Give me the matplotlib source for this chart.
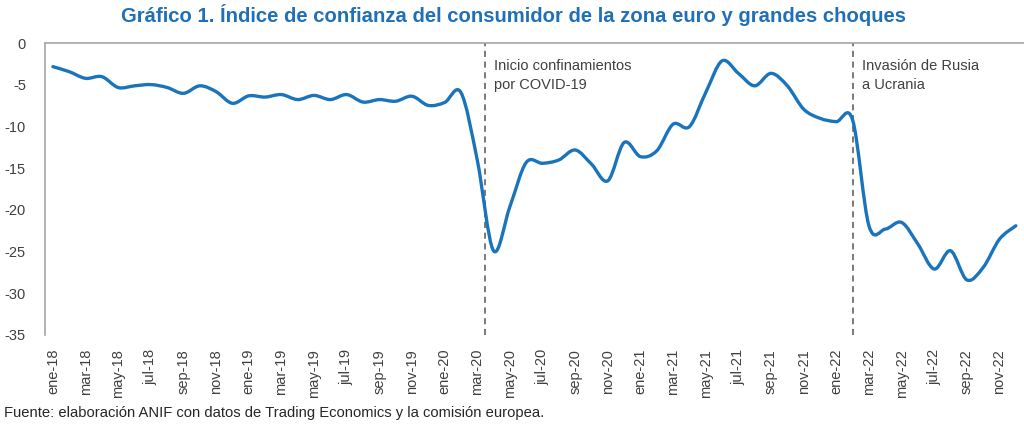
import matplotlib
matplotlib.use("Agg")
import matplotlib.pyplot as plt
from matplotlib.path import Path
from matplotlib.patches import PathPatch
import numpy as np

# ---- data ----
months = ["ene", "feb", "mar", "abr", "may", "jun", "jul", "ago", "sep", "oct", "nov", "dic"]
years = ["18", "19", "20", "21", "22"]
categories = [f"{m}-{y}" for y in years for m in months]

confianza = [
    -2.8, -3.4, -4.2, -4.0, -5.3, -5.1, -4.95, -5.3, -6.0, -5.1, -5.8, -7.2,   # 2018
    -6.3, -6.45, -6.15, -6.75, -6.25, -6.75, -6.15, -7.05, -6.75, -6.95, -6.35, -7.45,   # 2019
    -7.1, -5.9, -14.0, -24.9, -19.6, -14.3, -14.4, -14.0, -12.8, -14.5, -16.5, -11.9,  # 2020
    -13.6, -12.9, -9.7, -10.0, -5.9, -2.1, -3.6, -5.1, -3.6, -5.1, -7.9, -9.0,  # 2021
    -9.4, -9.2, -21.9, -22.3, -21.5, -24.1, -27.1, -24.9, -28.4, -26.9, -23.5, -21.9,  # 2022
]

event_positions = [26.5, 49.0]
event_labels = ["Inicio confinamientos\npor COVID-19", "Invasión de Rusia\na Ucrania"]

yticks = [0, -5, -10, -15, -20, -25, -30, -35]

title = "Gráfico 1. Índice de confianza del consumidor de la zona euro y grandes choques"
source = "Fuente: elaboración ANIF con datos de Trading Economics y la comisión europea."

# ---- style ----
plt.rcParams["font.family"] = ["Liberation Sans", "DejaVu Sans"]
line_color = "#1a74bb"
text_color = "#404040"

fig = plt.figure(figsize=(10.24, 4.25), dpi=100)
ax = fig.add_axes([0.0437, 0.212, 0.9563, 0.686])

# smooth line (Catmull-Rom style bezier through the data points)
x = np.arange(len(confianza), dtype=float)
y = np.array(confianza, dtype=float)
verts = [(x[0], y[0])]
codes = [Path.MOVETO]
n = len(x)
for i in range(n - 1):
    p0 = np.array([x[max(i - 1, 0)], y[max(i - 1, 0)]])
    p1 = np.array([x[i], y[i]])
    p2 = np.array([x[i + 1], y[i + 1]])
    p3 = np.array([x[min(i + 2, n - 1)], y[min(i + 2, n - 1)]])
    c1 = p1 + (p2 - p0) / 6.0
    c2 = p2 - (p3 - p1) / 6.0
    verts += [tuple(c1), tuple(c2), tuple(p2)]
    codes += [Path.CURVE4, Path.CURVE4, Path.CURVE4]
patch = PathPatch(Path(verts, codes), facecolor="none", edgecolor=line_color,
                  lw=2.4, capstyle="round", joinstyle="round", zorder=3)
ax.add_patch(patch)

for xp, lab in zip(event_positions, event_labels):
    ax.axvline(xp, color="#555555", ls=(0, (4, 3)), lw=1.1, zorder=2)
    ax.text(xp + 0.55, -1.85, lab, ha="left", va="top", fontsize=10.5,
            color=text_color, linespacing=1.45)

ax.set_xlim(-0.5, len(confianza) - 0.5)
ax.set_ylim(-35, 0)
ax.set_yticks(yticks)
ax.set_yticklabels([str(v) for v in yticks])
ax.set_xticks(x[::2])
ax.set_xticklabels(categories[::2], rotation=90)
ax.tick_params(axis="x", length=0, pad=10, labelsize=10.5, labelcolor=text_color)
ax.tick_params(axis="y", length=0, pad=13.5, labelsize=10.5, labelcolor=text_color)
for s in ["right", "bottom"]:
    ax.spines[s].set_visible(False)
for s in ["left", "top"]:
    ax.spines[s].set_color("#a6a6a6")
    ax.spines[s].set_linewidth(1.2)

fig.text(0.5015, 0.965, title, ha="center", va="center", fontsize=14.6,
         fontweight="bold", color="#1f70b8")
fig.text(0.004, 0.028, source, ha="left", va="center", fontsize=10.6,
         color="#262626")

fig.savefig("out.png", dpi=100)
